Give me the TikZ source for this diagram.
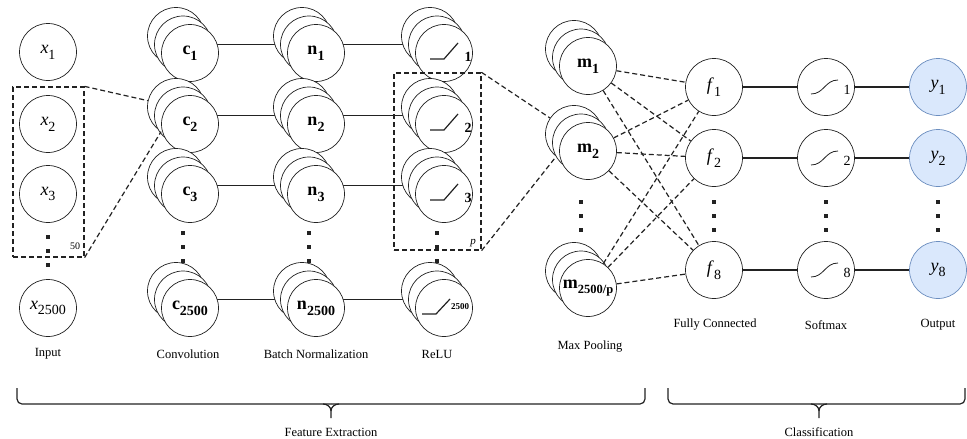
\documentclass[tikz,border=0pt]{standalone}
\usepackage{fontspec}
\setmainfont{Liberation Serif}
\usetikzlibrary{backgrounds}
\definecolor{outfill}{HTML}{DAE8FC}
\definecolor{outdraw}{HTML}{6C8EBF}
\definecolor{ink}{HTML}{222222}
\newcommand{\myNodeFont}{\fontsize{18}{18}\selectfont}
\newcommand{\isub}[2]{\textit{#1}\raisebox{-0.32em}{\fontsize{14}{14}\selectfont #2}}
\newcommand{\bsub}[2]{\textbf{#1}\raisebox{-0.32em}{\fontsize{14}{14}\selectfont\bfseries #2}}
\tikzset{
  circ/.style={circle,draw=ink,line width=0.7pt,fill=white,minimum size=57pt,inner sep=0pt,font=\myNodeFont},
  outc/.style={circ,draw=outdraw,fill=outfill},
  conn/.style={line width=1.4pt,draw=ink},
  dline/.style={line width=1.2pt,dash pattern=on 5pt off 3pt,draw=ink},
  dbox/.style={draw=ink,line width=1.2pt,dash pattern=on 5pt off 3pt,inner sep=0pt},
  lab/.style={font=\fontsize{12.5}{14}\selectfont,inner sep=0pt},
  ramp/.style={line width=1.2pt,draw=ink},
  brace/.style={line width=1.2pt,draw=ink,rounded corners=5pt},
}
\newcommand{\stk}[4]{%
  \node[circ] (#1b) at ({#2-14},{#3-17}) {};
  \node[circ] (#1m) at ({#2-7},{#3-8.5}) {};
  \node[circ] (#1) at (#2,#3) {#4};}
\newcommand{\vdts}[2]{%
  \foreach \k in {0,1,2} {\fill[ink] ({#1-1.6},{#2+14*\k-1.6}) rectangle ++(3.2,3.2);}}
\begin{document}
\begin{tikzpicture}[x=1pt,y=-1pt]
\useasboundingbox (0,0) rectangle (967,439);
% Input
\node[circ] (x1) at (48,52) {\isub{x}{1}};
\node[circ] (x2) at (48,124) {\isub{x}{2}};
\node[circ] (x3) at (48,194) {\isub{x}{3}};
\node[circ] (x4) at (48,308) {\isub{x}{2500}};
\vdts{48}{237}
% Convolution
\stk{c1}{190}{53}{\bsub{c}{1}}
\stk{c2}{190}{124}{\bsub{c}{2}}
\stk{c3}{190}{194}{\bsub{c}{3}}
\stk{c4}{190}{308}{\bsub{c}{2500}}
\vdts{183}{233}
% Batch normalization
\stk{n1}{316}{53}{\bsub{n}{1}}
\stk{n2}{316}{124}{\bsub{n}{2}}
\stk{n3}{316}{194}{\bsub{n}{3}}
\stk{n4}{316}{308}{\bsub{n}{2500}}
\vdts{309}{233}
% ReLU
\stk{r1}{444}{53}{}
\stk{r2}{444}{124}{}
\stk{r3}{444}{194}{}
\stk{r4}{444}{308}{}
\vdts{437}{233}
\foreach \r/\t in {r1/1,r2/2,r3/3} {
  \draw[ramp] ([shift={(-14,6)}]\r.center) -- ++(14,0) -- ++(14,-16);
  \node[font=\fontsize{14}{14}\selectfont\bfseries,inner sep=0pt] (\r t) at ([shift={(24,4)}]\r.center) {\t};
}
\draw[ramp] ([shift={(-22,6)}]r4.center) -- ++(14,0) -- ++(14,-15);
\node[font=\fontsize{9}{9}\selectfont\bfseries,inner sep=0pt] (r4t) at ([shift={(16,-1)}]r4.center) {2500};
% Max pooling
\stk{m1}{588}{66}{\bsub{m}{1}}
\stk{m2}{588}{151}{\bsub{m}{2}}
\stk{m4}{588}{288}{\textbf{m}\raisebox{-0.32em}{\fontsize{12.5}{12.5}\selectfont\bfseries 2500/p}}
\vdts{581}{202}
% Fully connected
\node[circ] (f1) at (714,87) {\isub{f}{1}};
\node[circ] (f2) at (714,158) {\isub{f}{2}};
\node[circ] (f8) at (714,270) {\isub{f}{8}};
\vdts{714}{202}
% Softmax
\node[circ] (s1) at (826,87) {};
\node[circ] (s2) at (826,158) {};
\node[circ] (s8) at (826,270) {};
\vdts{826}{202}
\foreach \s/\t in {s1/1,s2/2,s8/8} {
  \draw[line width=0.8pt,draw=ink] ([shift={(-15,7)}]\s.center) .. controls ([shift={(-2,7)}]\s.center) and ([shift={(-1,-7)}]\s.center) .. ([shift={(12,-7)}]\s.center);
  \node[font=\fontsize{14}{14}\selectfont,inner sep=0pt] (\s t) at ([shift={(21,3)}]\s.center) {\t};
}
% Output
\node[outc] (y1) at (938,87) {\isub{y}{1}};
\node[outc] (y2) at (938,158) {\isub{y}{2}};
\node[outc] (y8) at (938,270) {\isub{y}{8}};
\vdts{938}{202}
% solid connectors behind stacks
\begin{pgfonlayer}{background}
\foreach \i in {1,2,3,4} {
  \draw[conn] (c\i m.center) -- (n\i m.center);
  \draw[conn] (n\i m.center) -- (r\i m.center);
}
\end{pgfonlayer}
\foreach \i in {1,2,8} {
  \draw[conn] (f\i) -- (s\i);
  \draw[conn] (s\i) -- (y\i);
}
% dashed boxes
\node[dbox,minimum width=71pt,minimum height=170pt] (inbox) at (48.5,172) {};
\node[lab,font=\fontsize{10}{10}\selectfont] (in50) at (75,246) {50};
\draw[dline] (inbox.north east) -- (c2b);
\draw[dline] (inbox.south east) -- (c2b);
\node[dbox,minimum width=87pt,minimum height=177pt] (rbox) at (437.5,161.5) {};
\node[lab,font=\fontsize{11}{11}\selectfont\itshape] (rp) at (473,243) {p};
\draw[dline] (rbox.north east) -- (m2b);
\draw[dline] (rbox.south east) -- (m2b);
% max pooling to fully connected
\foreach \a in {m1,m2,m4} {
  \foreach \b in {f1,f2,f8} {
    \draw[dline] (\a) -- (\b);
  }
}
% labels
\node[lab] (lin) at (48,354) {Input};
\node[lab] (lconv) at (188,354) {Convolution};
\node[lab] (lbn) at (316,354) {Batch Normalization};
\node[lab] (lrelu) at (437,354) {ReLU};
\node[lab] (lmp) at (590,347) {Max Pooling};
\node[lab] (lfc) at (715,325) {Fully Connected};
\node[lab] (lsm) at (826,325) {Softmax};
\node[lab] (lout) at (938,325) {Output};
% braces
\draw[brace] (17,388) -- (17,404) -- (331,404);
\draw[brace] (645,388) -- (645,404) -- (331,404);
\draw[line width=1.2pt,draw=ink] (323,404) to[out=0,in=90] (331,411) -- (331,418);
\draw[line width=1.2pt,draw=ink] (339,404) to[out=180,in=90] (331,411);
\draw[brace] (668,388) -- (668,404) -- (819,404);
\draw[brace] (965,388) -- (965,404) -- (819,404);
\draw[line width=1.2pt,draw=ink] (811,404) to[out=0,in=90] (819,411) -- (819,418);
\draw[line width=1.2pt,draw=ink] (827,404) to[out=180,in=90] (819,411);
\node[lab] (lfe) at (331,432) {Feature Extraction};
\node[lab] (lcl) at (819,432) {Classification};
\end{tikzpicture}
\end{document}
